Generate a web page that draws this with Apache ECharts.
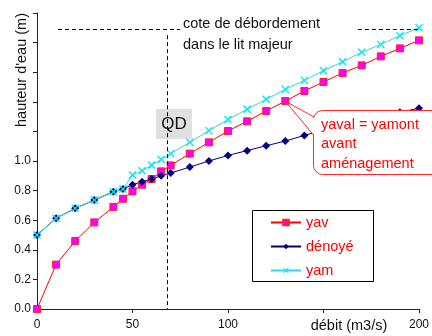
<!DOCTYPE html>
<html><head><meta charset="utf-8">
<script src="https://cdn.jsdelivr.net/npm/echarts@6/dist/echarts.min.js"></script>
<style>html,body{margin:0;padding:0;background:#fff}#c{width:432px;height:336px}</style>
</head><body><div id="c"></div>
<script>
const debit = [0,10,20,30,40,45,50,55,60,65,70,80,90,100,110,120,130,140,150,160,170,180,190,200];
const yav = [0,0.30,0.46,0.585,0.69,0.745,0.795,0.84,0.878,0.93,0.97,1.05,1.126,1.203,1.268,1.338,1.405,1.473,1.534,1.595,1.646,1.707,1.761,1.815];
const denoye = [0.5,0.613,0.68,0.736,0.793,0.81,0.84,0.86,0.878,0.9,0.919,0.959,1.0,1.038,1.07,1.103,1.135,1.173,1.21,1.245,1.275,1.305,1.33,1.356];
const yam = [0.5,0.613,0.68,0.736,0.793,0.81,0.905,0.934,0.973,1.01,1.05,1.126,1.205,1.28,1.35,1.417,1.484,1.545,1.61,1.671,1.734,1.788,1.847,1.9];
const xTicks = [0,50,100,150,200];
const yTicks = [0,0.2,0.4,0.6,0.8,1.0];
const coteY = 1.89;
const coteSeg1 = [11, 75];
const coteSeg2 = [168, 200];
const qdX = 68;
const qdTop = 1.85;

const pair = (xs, ys) => xs.map((x, i) => [x, ys[i]]);
const FONT = 'Liberation Sans, Arial, sans-serif';
const chart = echarts.init(document.getElementById('c'), null, {renderer: 'canvas'});
const xPath = 'path://M0,1.2L1.2,0L5,3.8L8.8,0L10,1.2L6.2,5L10,8.8L8.8,10L5,6.2L1.2,10L0,8.8L3.8,5Z';

chart.setOption({
  animation: false,
  backgroundColor: '#fff',
  textStyle: {fontFamily: FONT},
  grid: {left: 37, right: 12, top: 13, bottom: 27},
  xAxis: {
    type: 'value', min: 0, max: 200, interval: 50,
    axisLine: {lineStyle: {color: '#222', width: 1}},
    axisTick: {show: true, length: 4, lineStyle: {color: '#222'}},
    splitLine: {show: false},
    axisLabel: {margin: 10, fontSize: 12, color: '#111', fontFamily: FONT,
      formatter: v => (xTicks.includes(v) && v !== 150) ? String(v) : ''}
  },
  yAxis: {
    type: 'value', min: 0, max: 2, interval: 0.2,
    axisLine: {show: true, lineStyle: {color: '#222', width: 1}},
    axisTick: {show: true, length: 4, lineStyle: {color: '#222'}},
    splitLine: {show: false},
    axisLabel: {margin: 6, fontSize: 12, color: '#111', fontFamily: FONT,
      formatter: v => yTicks.some(t => Math.abs(t - v) < 1e-6) ? v.toFixed(1) : ''}
  },
  legend: {
    orient: 'vertical', left: 270, top: 214, itemWidth: 30, itemHeight: 7, itemGap: 7, padding: 0,
    textStyle: {color: '#ff0000', fontSize: 14.5, fontFamily: FONT, lineHeight: 17},
    data: ['yav', 'dénoyé', 'yam']
  },
  series: [
    {name: 'yav', type: 'line', data: pair(debit, yav), symbol: 'rect', symbolSize: 7,
     lineStyle: {color: '#ff0000', width: 1},
     itemStyle: {color: '#ff00ff', borderColor: '#ff2020', borderWidth: 1},
     markLine: {silent: true, symbol: 'none', label: {show: false},
       lineStyle: {color: '#000', type: [4, 3], width: 1},
       data: [
         [{coord: [coteSeg1[0], coteY]}, {coord: [coteSeg1[1], coteY]}],
         [{coord: [coteSeg2[0], coteY]}, {coord: [coteSeg2[1], coteY]}],
         [{coord: [qdX, qdTop]}, {coord: [qdX, 0]}]
       ]}
    },
    {name: 'dénoyé', type: 'line', data: pair(debit, denoye), symbol: 'diamond', symbolSize: 8,
     lineStyle: {color: '#000080', width: 1},
     itemStyle: {color: '#000080'}},
    {name: 'yam', type: 'line', data: pair(debit, yam), symbol: xPath, symbolSize: 8,
     lineStyle: {color: '#33d6e6', width: 1},
     itemStyle: {color: '#00e8f0'}}
  ],
  graphic: [
    {type: 'text', left: 183, top: 13, style: {text: 'cote de débordement\ndans le lit majeur', font: '14.5px ' + FONT, fill: '#111', lineHeight: 21}},
    {type: 'rect', shape: {x: 156, y: 109, width: 36, height: 30}, style: {fill: '#e0e0e0'}},
    {type: 'text', x: 174, y: 124, style: {text: 'QD', font: '17px ' + FONT, fill: '#111', align: 'center', verticalAlign: 'middle'}},
    {type: 'text', x: 22, y: 70, rotation: Math.PI / 2, style: {text: "hauteur d'eau (m)", font: '14.5px ' + FONT, fill: '#111', align: 'center', verticalAlign: 'middle'}},
    {type: 'text', x: 349, y: 326, style: {text: 'débit (m3/s)', font: '14.5px ' + FONT, fill: '#111', align: 'center', verticalAlign: 'middle'}},
    {type: 'rect', shape: {x: 252.5, y: 210.5, width: 121, height: 71}, style: {fill: 'none', stroke: '#000', lineWidth: 1}, z: 1},
    {type: 'rect', shape: {x: 313.5, y: 110.5, width: 140, height: 64, r: 9}, style: {fill: '#fff', stroke: '#ff2a2a', lineWidth: 1}, z: 10},
    {type: 'line', shape: {x1: 313.5, y1: 118, x2: 313.5, y2: 134}, style: {stroke: '#fff', lineWidth: 3}, z: 11},
    {type: 'polyline', shape: {points: [[314, 117], [285, 101], [313.5, 135]]}, style: {stroke: '#ff2a2a', lineWidth: 1, fill: 'none'}, z: 11},
    {type: 'text', left: 321, top: 115, style: {text: 'yaval = yamont\navant\naménagement', font: '14.5px ' + FONT, fill: '#ff0000', lineHeight: 19.5}, z: 12}
  ]
});
</script></body></html>
